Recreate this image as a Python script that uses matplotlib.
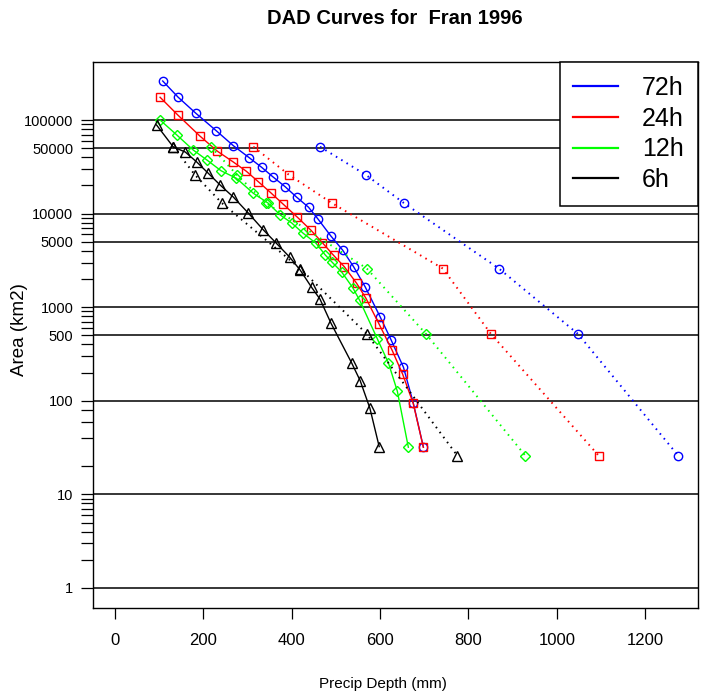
import matplotlib
matplotlib.use("Agg")
import matplotlib.pyplot as plt
from matplotlib.lines import Line2D
from matplotlib.ticker import FixedLocator, NullFormatter

plt.rcParams['font.family'] = ['Liberation Sans', 'DejaVu Sans']

# ---------------- data ----------------
durations = ["72h", "24h", "12h", "6h"]
colors = ["#0000FF", "#FF0000", "#00FF00", "#000000"]
markers = ["o", "s", "D", "^"]

# solid curves (depth mm, area km2)
depth_72 = [108, 143, 183, 229, 268, 304, 332, 357, 385, 411, 438, 460, 488, 515, 540, 566, 600, 625, 653, 675, 698]
area_72 = [261000, 175000, 118000, 76900, 53100, 39500, 31200, 24800, 19400, 15000, 11700, 8690, 5810, 4090, 2710, 1660, 792, 447, 228, 95.4, 32.1]

depth_24 = [102, 143, 192, 232, 267, 297, 324, 352, 380, 413, 443, 469, 495, 519, 547, 568, 598, 627, 651, 675, 698]
area_24 = [175000, 112000, 67500, 46300, 35800, 28400, 22000, 16800, 12700, 9130, 6680, 4910, 3570, 2710, 1800, 1245, 657, 349, 193, 94.0, 31.9]

depth_12 = [102, 140, 177, 208, 240, 275, 313, 347, 374, 400, 426, 455, 476, 491, 513, 538, 554, 594, 619, 639, 664]
area_12 = [100000, 69100, 47800, 37400, 28700, 23800, 16500, 12900, 9670, 7940, 6160, 4820, 3610, 3040, 2380, 1620, 1180, 457, 253, 127, 31.9]

depth_6 = [94, 132, 159, 185, 211, 238, 268, 302, 336, 364, 395, 419, 445, 464, 489, 536, 555, 577, 598]
area_6 = [88500, 51500, 45500, 35600, 27000, 20200, 15000, 10100, 6680, 4890, 3440, 2500, 1630, 1220, 673, 252, 164, 83.2, 32.4]

# dotted curves (common areas)
area_dot = [51800, 25900, 12950, 2590, 518, 25.9]
depth_dot_72 = [464, 568, 654, 869, 1048, 1275]
depth_dot_24 = [313, 394, 491, 742, 851, 1095]
depth_dot_12 = [217, 276, 342, 570, 704, 929]
depth_dot_6 = [132, 181, 242, 419, 570, 775]

solid_depths = [depth_72, depth_24, depth_12, depth_6]
solid_areas = [area_72, area_24, area_12, area_6]
dot_depths = [depth_dot_72, depth_dot_24, depth_dot_12, depth_dot_6]

y_major = [1, 10, 100, 500, 1000, 5000, 10000, 50000, 100000]
y_major_labels = ["1", "10", "100", "500", "1000", "5000", "10000", "50000", "100000"]
y_minor = [2, 3, 4, 5, 6, 7, 8, 9,
           20, 40, 60, 80,
           200, 300, 400, 600, 700, 800, 900,
           2000, 3000, 4000, 6000, 7000, 8000, 9000,
           20000, 30000, 40000, 60000, 70000, 80000, 90000]
x_ticks = [0, 200, 400, 600, 800, 1000, 1200]

# ---------------- figure ----------------
W, H = 702, 696
fig = plt.figure(figsize=(W / 100, H / 100), dpi=100)
L, R, T, B = 92.7, 697.7, 62, 608.3
ax = fig.add_axes([L / W, 1 - B / H, (R - L) / W, (B - T) / H])

ax.set_yscale("log")
ax.set_xlim(-50.5, 1319)
ax.set_ylim(10 ** (-0.2169), 10 ** 5.6197)

# horizontal grid lines at labelled values
for v in y_major:
    ax.axhline(v, color="black", lw=1.1, zorder=1)

ms_map = {"o": 6.0, "s": 5.4, "D": 4.6, "^": 7.0}
for d, a, dd, c, m in zip(solid_depths, solid_areas, dot_depths, colors, markers):
    ax.plot(d, a, color=c, lw=1.0, marker=m, ms=ms_map[m], mfc="none", mec=c, mew=1.0, zorder=3)
    ax.plot(dd, area_dot, color=c, lw=1.4, linestyle=(0, (0.8, 2.4)), marker=m,
            ms=ms_map[m], mfc="none", mec=c, mew=1.0, zorder=3)

ax.yaxis.set_major_locator(FixedLocator(y_major))
ax.set_yticklabels(y_major_labels)
ax.yaxis.set_minor_locator(FixedLocator(y_minor))
ax.yaxis.set_minor_formatter(NullFormatter())
ax.set_xticks(x_ticks)
ax.set_xticklabels([str(v) for v in x_ticks])

ax.tick_params(axis="y", which="both", direction="out", length=8.5, width=0.9, labelsize=10.5, pad=5.5)
ax.tick_params(axis="x", which="both", direction="out", length=8, width=0.9, labelsize=12, pad=10)

for s in ax.spines.values():
    s.set_linewidth(1.0)
    s.set_color("black")

ax.set_xlabel("Precip Depth (mm)", fontsize=11)
ax.xaxis.label.set_va("center")
ax.xaxis.set_label_coords((383 - L) / (R - L), -(684 - B) / (B - T))
ax.set_ylabel("Area (km2)", fontsize=13.5)
ax.yaxis.label.set_va("center")
ax.yaxis.set_label_coords(-(L - 20) / (R - L), (B - 330) / (B - T))

fig.text(0.5 * (L + R) / W, 1 - 19 / H, "DAD Curves for  Fran 1996",
         ha="center", va="center", fontsize=14.5, fontweight="bold")

handles = [Line2D([], [], color=c, lw=1.6) for c in colors]
leg = ax.legend(handles, durations, loc="upper right", fontsize=18, frameon=True,
                fancybox=False, borderaxespad=0, borderpad=0.55, handlelength=1.8,
                handletextpad=0.95, labelspacing=0.27)
leg.get_frame().set_edgecolor("black")
leg.get_frame().set_linewidth(1.1)
leg.get_frame().set_alpha(1)
leg.set_zorder(5)

fig.savefig("out.png", dpi=100)
